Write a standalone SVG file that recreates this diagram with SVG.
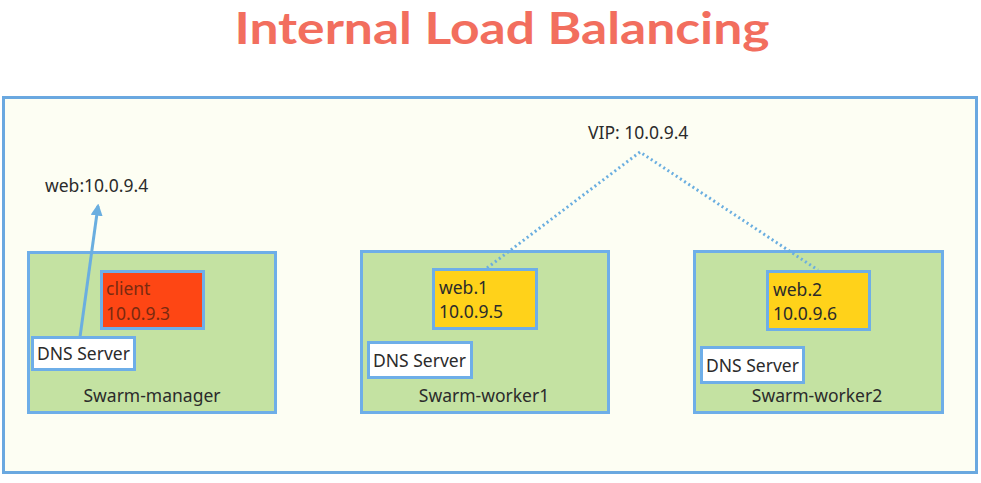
<svg xmlns="http://www.w3.org/2000/svg" width="981" height="483" viewBox="0 0 981 483">
<style>
text{font-family:"Noto Sans","Open Sans",sans-serif;fill:#2b2b2b;font-size:17.5px}
.host{fill:#c4e2a2;stroke:#6eaee8;stroke-width:3}
.box{stroke:#6eaee8;stroke-width:3}
.dns{fill:#ffffff}
.web{fill:#ffd21a}
.cli{fill:#fe4614}
.dot{fill:none;stroke:#6aaee0;stroke-width:3;stroke-dasharray:2 3}
.mid{text-anchor:middle}
</style>
<defs>
<marker id="ah" viewBox="0 0 10 10" refX="8" refY="5" markerWidth="4" markerHeight="4" orient="auto">
<path d="M0,0 L10,5 L0,10 z" fill="#6aaee0"/>
</marker>
</defs>
<rect width="981" height="483" fill="#ffffff"/>
<text x="502" y="44" class="mid" textLength="535" lengthAdjust="spacingAndGlyphs" style="font-family:Lato,'Noto Sans',sans-serif;font-size:44px;font-weight:700;fill:#f26e5e">Internal Load Balancing</text>
<rect id="cluster" x="3.5" y="97.5" width="973" height="375" fill="#fdfef3" stroke="#6aa8e0" stroke-width="3"/>
<text id="web-label" x="45" y="192">web:10.0.9.4</text>
<text id="vip-label" x="588" y="139">VIP: 10.0.9.4</text>
<g id="swarm-manager">
<rect class="host" x="28.5" y="252.5" width="247" height="160"/>
<text x="152" y="402" class="mid">Swarm-manager</text>
</g>
<g id="swarm-worker1">
<rect class="host" x="361.5" y="251.5" width="247" height="161"/>
<text x="484" y="402" class="mid">Swarm-worker1</text>
</g>
<g id="swarm-worker2">
<rect class="host" x="694.5" y="251.5" width="248" height="161"/>
<text x="817" y="402" class="mid">Swarm-worker2</text>
</g>
<g id="connectors">
<line x1="80" y1="337" x2="98" y2="206" stroke="#6aaee0" stroke-width="3" marker-end="url(#ah)"/>
<polyline class="dot" points="487,268 640,152 818,270"/>
</g>
<g id="client">
<rect class="box cli" x="101.5" y="271.5" width="102" height="57"/>
<text x="106" y="295" style="fill:#7a2a10">client</text>
<text x="106" y="320" style="fill:#7a2a10">10.0.9.3</text>
</g>
<g id="dns-manager">
<rect class="box dns" x="32.5" y="337.5" width="102" height="32"/>
<text x="37" y="360">DNS Server</text>
</g>
<g id="web1">
<rect class="box web" x="433.5" y="269.5" width="103" height="59"/>
<text x="439" y="294">web.1</text>
<text x="439" y="318">10.0.9.5</text>
</g>
<g id="dns-worker1">
<rect class="box dns" x="368.5" y="342.5" width="103" height="35"/>
<text x="373" y="367">DNS Server</text>
</g>
<g id="web2">
<rect class="box web" x="767.5" y="271.5" width="102" height="58"/>
<text x="773" y="296">web.2</text>
<text x="773" y="320">10.0.9.6</text>
</g>
<g id="dns-worker2">
<rect class="box dns" x="701.5" y="347.5" width="102" height="35"/>
<text x="706" y="372">DNS Server</text>
</g>
</svg>
